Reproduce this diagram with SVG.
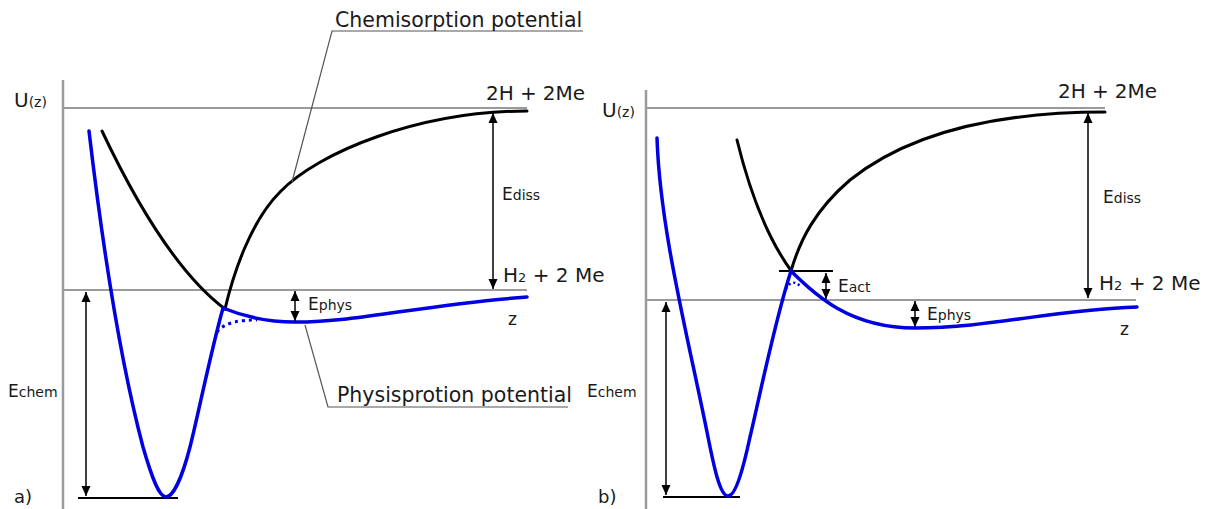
<svg xmlns="http://www.w3.org/2000/svg" width="1205" height="509" viewBox="0 0 1205 509">
<defs>
<marker id="ah" viewBox="0 0 10 10" refX="10" refY="5" markerWidth="10" markerHeight="10" markerUnits="userSpaceOnUse" orient="auto-start-reverse">
<path d="M0,0.5 L10,5 L0,9.5 Z" fill="#000"/>
</marker>
</defs>
<style>
.ax{stroke:#9a9a9a;stroke-width:2.5;fill:none}
.gl{stroke:#9a9a9a;stroke-width:2;fill:none}
.bk{stroke:#000;stroke-width:3;fill:none;stroke-linecap:round}
.bl{stroke:#0000e0;stroke-width:3.5;fill:none;stroke-linecap:round}
.dt{stroke:#0000e0;stroke-width:3;fill:none;stroke-dasharray:3 4}
.ar{stroke:#000;stroke-width:1.5;fill:none;marker-start:url(#ah);marker-end:url(#ah)}
.ld{stroke:#555;stroke-width:1.2;fill:none}
.hl{stroke:#000;stroke-width:2;fill:none}
text{font-family:"DejaVu Sans","Liberation Sans",sans-serif;fill:#1a1a1a;font-size:20px}
.s{font-size:14px}
.e{font-size:17px}
</style>

<g id="panel-a">
<g id="a-axes">
<line class="ax" x1="63" y1="80" x2="63" y2="509"/>
<line class="gl" x1="63" y1="108" x2="527" y2="108"/>
<line class="gl" x1="63" y1="290" x2="527" y2="290"/>
<line class="hl" x1="78" y1="498" x2="178" y2="498"/>
</g>
<g id="a-curves">
<path class="bk" d="M102,131 C136,203 177,273 225,309"/>
<path class="bk" d="M225,309 C233,275 250,222 280,192 C318,152 420,111 527,111"/>
<path class="bl" d="M89,131 C103,250 120,360 143,447 C152,478 159,497 166,497 C173,497 182,478 190,447 C197,420 210,355 223,308 C240,315 265,322 295,322 C360,322 420,305 527,297"/>
<path class="dt" d="M217,332 C225,322 240,320 257,320"/>
</g>
<g id="a-connectors">
<line class="ar" x1="493" y1="113" x2="493" y2="289"/>
<line class="ar" x1="295" y1="291" x2="295" y2="321"/>
<line class="ar" x1="86" y1="292" x2="86" y2="496"/>
<polyline class="ld" points="583,31 332,31 292,182"/>
<polyline class="ld" points="305,325 328,407 568,407"/>
</g>
<g id="a-labels">
<text x="14" y="107">U<tspan class="s">(z)</tspan></text>
<text x="335" y="27" style="font-size:20.5px">Chemisorption potential</text>
<text x="486" y="100" textLength="99" lengthAdjust="spacing">2H + 2Me</text>
<text x="502" y="200" class="e">E<tspan class="s">diss</tspan></text>
<text x="503" y="282">H<tspan style="font-size:13px">2</tspan> + 2 Me</text>
<text x="308" y="310" class="e">E<tspan class="s">phys</tspan></text>
<text x="508" y="325" class="e">z</text>
<text x="337" y="402" style="font-size:20.5px">Physisprotion potential</text>
<text x="8" y="397" class="e">E<tspan class="s">chem</tspan></text>
<text x="14" y="503" style="font-size:18px">a)</text>
</g>
</g>

<g id="panel-b">
<g id="b-axes">
<line class="ax" x1="646" y1="90" x2="646" y2="509"/>
<line class="gl" x1="646" y1="108" x2="1105" y2="108"/>
<line class="gl" x1="646" y1="300" x2="1136" y2="300"/>
<line class="hl" x1="663" y1="497" x2="740" y2="497"/>
<line class="hl" x1="779" y1="271" x2="833" y2="271"/>
</g>
<g id="b-curves">
<path class="bk" d="M737,140 C748,185 765,235 792,272"/>
<path class="bk" d="M791,271 C800,240 815,210 850,180 C900,140 980,112 1105,112"/>
<path class="bl" d="M657,138 C660,230 688,337 708,437 C714,467 720,496 728,496 C736,496 744,465 750,437 C760,395 775,320 791,271 C815,295 850,328 915,328 C990,328 1050,310 1137,307"/>
<path class="dt" style="stroke-dasharray:2 3;stroke-width:2.5" d="M786,289 Q792,278 800,286"/>
</g>
<g id="b-connectors">
<line class="ar" x1="1088" y1="113" x2="1088" y2="298"/>
<line class="ar" x1="826" y1="273" x2="826" y2="299"/>
<line class="ar" x1="915" y1="301" x2="915" y2="327"/>
<line class="ar" x1="666" y1="302" x2="666" y2="495"/>
</g>
<g id="b-labels">
<text x="602" y="117">U<tspan class="s">(z)</tspan></text>
<text x="1058" y="98" textLength="99" lengthAdjust="spacing">2H + 2Me</text>
<text x="1103" y="203" class="e">E<tspan class="s">diss</tspan></text>
<text x="1099" y="290">H<tspan style="font-size:13px">2</tspan> + 2 Me</text>
<text x="838" y="292" class="e">E<tspan class="s">act</tspan></text>
<text x="927" y="320" class="e">E<tspan class="s">phys</tspan></text>
<text x="1120" y="335" class="e">z</text>
<text x="587" y="397" class="e">E<tspan class="s">chem</tspan></text>
<text x="598" y="503" style="font-size:18px">b)</text>
</g>
</g>
</svg>
